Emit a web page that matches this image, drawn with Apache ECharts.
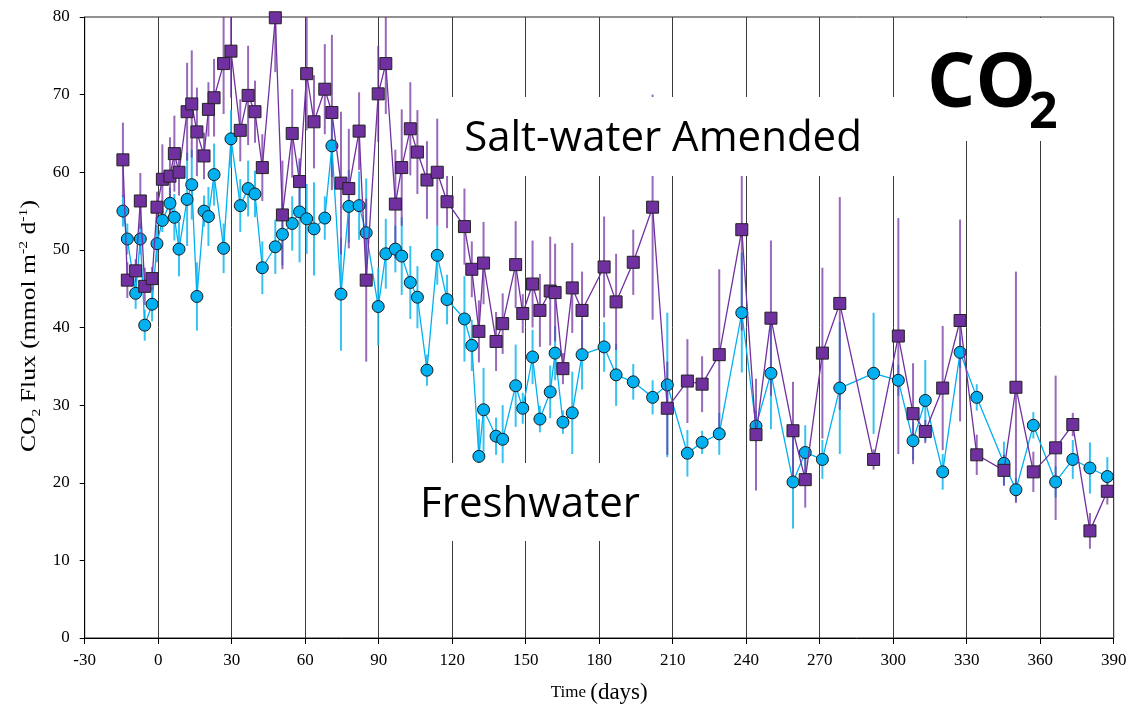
<!DOCTYPE html>
<html>
<head>
<meta charset="utf-8">
<title>CO2 Flux</title>
<script src="https://cdn.jsdelivr.net/npm/echarts@6/dist/echarts.min.js"></script>
<style>
  html, body { margin: 0; padding: 0; background: #fff; }
  #chart { width: 1132px; height: 709px; }
</style>
</head>
<body>
<div id="chart"></div>
<script>
// Sampling days relative to the start of the amendment
const days = [-14.4, -12.6, -9.2, -7.3, -5.5, -2.5, -0.5, 1.7, 4.8, 6.6, 8.5, 11.8, 13.7, 15.8, 18.7, 20.5, 22.8, 26.7, 29.7, 33.5, 36.7, 39.5, 42.5, 47.8, 50.7, 54.7, 57.7, 60.6, 63.6, 68.0, 70.9, 74.6, 77.8, 82.0, 84.9, 89.8, 92.9, 96.8, 99.4, 102.9, 105.8, 109.7, 113.9, 117.9, 125.0, 128.0, 130.9, 132.8, 137.9, 140.6, 145.9, 148.8, 152.8, 155.8, 160.0, 162.0, 165.2, 169.0, 173.0, 182.0, 186.9, 193.9, 201.8, 207.8, 216.0, 222.0, 229.0, 238.2, 244.0, 250.1, 259.1, 264.1, 271.1, 278.2, 292.0, 302.1, 308.1, 313.1, 320.2, 327.3, 334.1, 345.2, 350.1, 357.2, 366.3, 373.3, 380.3, 387.4];

// Salt-water amended cores: mean flux and error
const saltFlux = [61.6, 46.1, 47.3, 56.3, 45.3, 46.3, 55.5, 59.1, 59.5, 62.4, 60.0, 67.8, 68.8, 65.2, 62.1, 68.1, 69.6, 74.0, 75.6, 65.4, 69.9, 67.8, 60.6, 79.9, 54.5, 65.0, 58.8, 72.7, 66.5, 70.7, 67.7, 58.6, 57.9, 65.3, 46.1, 70.1, 74.0, 55.9, 60.6, 65.6, 62.6, 59.0, 60.0, 56.2, 53.0, 47.5, 39.5, 48.3, 38.2, 40.5, 48.1, 41.8, 45.6, 42.2, 44.7, 44.5, 34.7, 45.1, 42.2, 47.8, 43.3, 48.4, 55.5, 29.6, 33.1, 32.7, 36.5, 52.6, 26.2, 41.2, 26.7, 20.4, 36.7, 43.1, 23.0, 38.9, 28.9, 26.6, 32.2, 40.9, 23.6, 21.6, 32.3, 21.4, 24.5, 27.5, 13.8, 18.9];
const saltErr = [4.8, 2.3, 1.5, 3.6, 2.4, 1.5, 2.0, 4.5, 5.0, 4.9, 3.0, 6.3, 6.9, 5.7, 3.0, 3.5, 5.0, 6.5, 6.0, 4.0, 6.4, 4.0, 4.3, 7.0, 7.0, 5.7, 3.0, 7.3, 6.0, 5.8, 10.0, 9.2, 7.7, 5.0, 10.5, 6.2, 6.5, 7.0, 7.5, 6.0, 5.4, 5.0, 6.9, 3.4, 4.9, 3.6, 4.0, 5.3, 3.8, 3.9, 5.6, 2.5, 5.6, 4.7, 7.0, 6.3, 2.0, 5.8, 5.0, 6.5, 6.2, 4.2, 14.5, 6.0, 5.4, 3.6, 11.0, 13.0, 7.2, 10.0, 6.3, 3.6, 11.0, 13.7, 1.3, 15.2, 6.5, 1.5, 8.0, 13.0, 2.6, 2.0, 14.9, 2.6, 9.3, 1.5, 2.3, 1.7];

// Freshwater cores: mean flux and error
const freshFlux = [55.0, 51.4, 44.4, 51.4, 40.3, 43.0, 50.8, 53.8, 56.0, 54.2, 50.1, 56.5, 58.4, 44.0, 55.0, 54.3, 59.7, 50.2, 64.3, 55.7, 57.9, 57.2, 47.7, 50.4, 52.0, 53.4, 54.9, 54.0, 52.7, 54.1, 63.4, 44.3, 55.6, 55.7, 52.2, 42.7, 49.5, 50.1, 49.2, 45.8, 43.9, 34.5, 49.3, 43.6, 41.1, 37.7, 23.4, 29.4, 26.0, 25.6, 32.5, 29.6, 36.2, 28.2, 31.7, 36.7, 27.8, 29.0, 36.5, 37.5, 33.9, 33.0, 31.0, 32.6, 23.8, 25.2, 26.3, 41.9, 27.3, 34.1, 20.1, 23.9, 23.0, 32.2, 34.1, 33.2, 25.4, 30.6, 21.4, 36.8, 31.0, 22.5, 19.1, 27.4, 20.1, 23.0, 21.9, 20.8];
const freshErr = [2.0, 2.0, 2.0, 2.0, 2.0, 2.2, 2.4, 1.5, 2.0, 3.0, 3.5, 6.0, 4.5, 4.4, 2.0, 3.8, 4.0, 3.2, 3.7, 3.4, 3.6, 3.0, 3.4, 3.5, 4.0, 3.5, 6.5, 4.5, 6.0, 2.8, 4.0, 7.3, 4.7, 4.4, 7.0, 5.0, 4.5, 3.0, 5.0, 4.7, 4.0, 2.0, 3.8, 3.2, 5.5, 3.3, 4.8, 5.4, 2.4, 4.4, 5.3, 2.0, 3.5, 1.7, 3.4, 3.5, 1.5, 5.3, 4.5, 3.2, 4.0, 2.3, 2.2, 9.3, 3.0, 1.5, 2.7, 7.7, 2.0, 7.2, 6.0, 3.5, 2.5, 8.5, 7.8, 2.0, 2.5, 5.2, 2.3, 2.0, 1.7, 2.8, 1.5, 1.7, 2.0, 2.5, 3.3, 2.5];

const SALT = '#7030a0';
const FRESH = '#00b0f0';
const SERIF = '"Liberation Serif", "Times New Roman", serif';
const SANS = '"Open Sans", "Noto Sans", sans-serif';

function errorBars(flux, err, color) {
  return {
    type: 'custom',
    clip: true,
    z: 2,
    silent: true,
    data: days.map((d, i) => [d, flux[i] - err[i], flux[i] + err[i]]),
    encode: { x: 0, y: [1, 2] },
    renderItem: function (params, api) {
      const lo = api.coord([api.value(0), api.value(1)]);
      const hi = api.coord([api.value(0), api.value(2)]);
      return {
        type: 'line',
        shape: { x1: lo[0], y1: lo[1], x2: hi[0], y2: hi[1] },
        style: { stroke: color, lineWidth: 2 }
      };
    }
  };
}

const chart = echarts.init(document.getElementById('chart'), null, { renderer: 'canvas' });

chart.setOption({
  animation: false,
  backgroundColor: '#fff',
  grid: {
    left: 84.7, right: 18.3, top: 17, bottom: 70,
    show: true, borderColor: '#222', borderWidth: 1, backgroundColor: 'transparent'
  },
  xAxis: {
    type: 'value', min: -30, max: 390, interval: 30,
    axisLine: { show: true, onZero: false, lineStyle: { color: '#000', width: 1 } },
    axisTick: { show: true, length: 6, lineStyle: { color: '#000' } },
    axisLabel: { fontFamily: SERIF, fontSize: 17, color: '#000', margin: 14 },
    splitLine: { show: true, lineStyle: { color: '#3a3a3a', width: 1 } },
    name: '{t|Time }{d|(days)}',
    nameLocation: 'middle',
    nameGap: 40,
    nameTextStyle: {
      color: '#000',
      rich: {
        t: { fontFamily: SERIF, fontSize: 17, color: '#000', lineHeight: 26, verticalAlign: 'bottom', padding: [0, 0, 3, 0] },
        d: { fontFamily: SERIF, fontSize: 23, color: '#000', lineHeight: 26, verticalAlign: 'bottom' }
      }
    }
  },
  yAxis: {
    type: 'value', min: 0, max: 80, interval: 10,
    axisLine: { show: true, onZero: false, lineStyle: { color: '#000', width: 1 } },
    axisTick: { show: true, inside: false, length: 5, lineStyle: { color: '#000' } },
    axisLabel: { fontFamily: SERIF, fontSize: 17, color: '#000', margin: 15 },
    splitLine: { show: false }
  },
  series: [
    errorBars(freshFlux, freshErr, 'rgba(20,185,240,0.85)'),
    errorBars(saltFlux, saltErr, 'rgba(112,48,160,0.72)'),
    {
      name: 'Freshwater',
      type: 'line',
      z: 3,
      data: days.map((d, i) => [d, freshFlux[i]]),
      symbol: 'circle',
      symbolSize: 12,
      showAllSymbol: true,
      lineStyle: { color: FRESH, width: 1.3 },
      itemStyle: { color: FRESH, borderColor: '#1a1a1a', borderWidth: 1 }
    },
    {
      name: 'Salt-water Amended',
      type: 'line',
      z: 4,
      data: days.map((d, i) => [d, saltFlux[i]]),
      symbol: 'rect',
      symbolSize: 12,
      showAllSymbol: true,
      lineStyle: { color: SALT, width: 1.3 },
      itemStyle: { color: SALT, borderColor: '#222', borderWidth: 1 }
    }
  ],
  graphic: [
    // y-axis title, rotated and stretched along its reading direction
    { type: 'text', z: 101, x: 29, y: 326, rotation: Math.PI / 2, scaleX: 1.22,
      style: {
        text: '{a|CO}{s|2}{a| Flux (mmol m}{p|-2}{a| d}{p|-1}{a|)}',
        align: 'center', verticalAlign: 'middle',
        rich: {
          a: { fontFamily: SERIF, fontSize: 21, fill: '#000', lineHeight: 28, verticalAlign: 'middle' },
          s: { fontFamily: SERIF, fontSize: 13, fill: '#000', lineHeight: 13, verticalAlign: 'bottom' },
          p: { fontFamily: SERIF, fontSize: 13, fill: '#000', lineHeight: 13, verticalAlign: 'top', padding: [2, 0, 0, 0] }
        }
      } },
    { type: 'rect', z: 100, shape: { x: 445, y: 97, width: 462, height: 79 }, style: { fill: '#fff' } },
    { type: 'rect', z: 100, shape: { x: 405, y: 463, width: 250, height: 78 }, style: { fill: '#fff' } },
    { type: 'rect', z: 100, shape: { x: 905, y: 18, width: 207, height: 123 }, style: { fill: '#fff' } },
    { type: 'text', z: 101, x: 663, y: 139,
      style: { text: 'Salt-water Amended', fontFamily: SANS, fontSize: 42, fill: '#000', align: 'center', verticalAlign: 'middle' } },
    { type: 'text', z: 101, x: 530, y: 505,
      style: { text: 'Freshwater', fontFamily: SANS, fontSize: 42, fill: '#000', align: 'center', verticalAlign: 'middle' } },
    { type: 'text', z: 101, x: 927, y: 85,
      style: { text: 'CO', fontFamily: SANS, fontWeight: 'bold', fontSize: 76, fill: '#000', align: 'left', verticalAlign: 'middle' } },
    { type: 'text', z: 101, x: 1029, y: 114,
      style: { text: '2', fontFamily: SANS, fontWeight: 'bold', fontSize: 50, fill: '#000', align: 'left', verticalAlign: 'middle' } }
  ]
});
</script>
</body>
</html>
